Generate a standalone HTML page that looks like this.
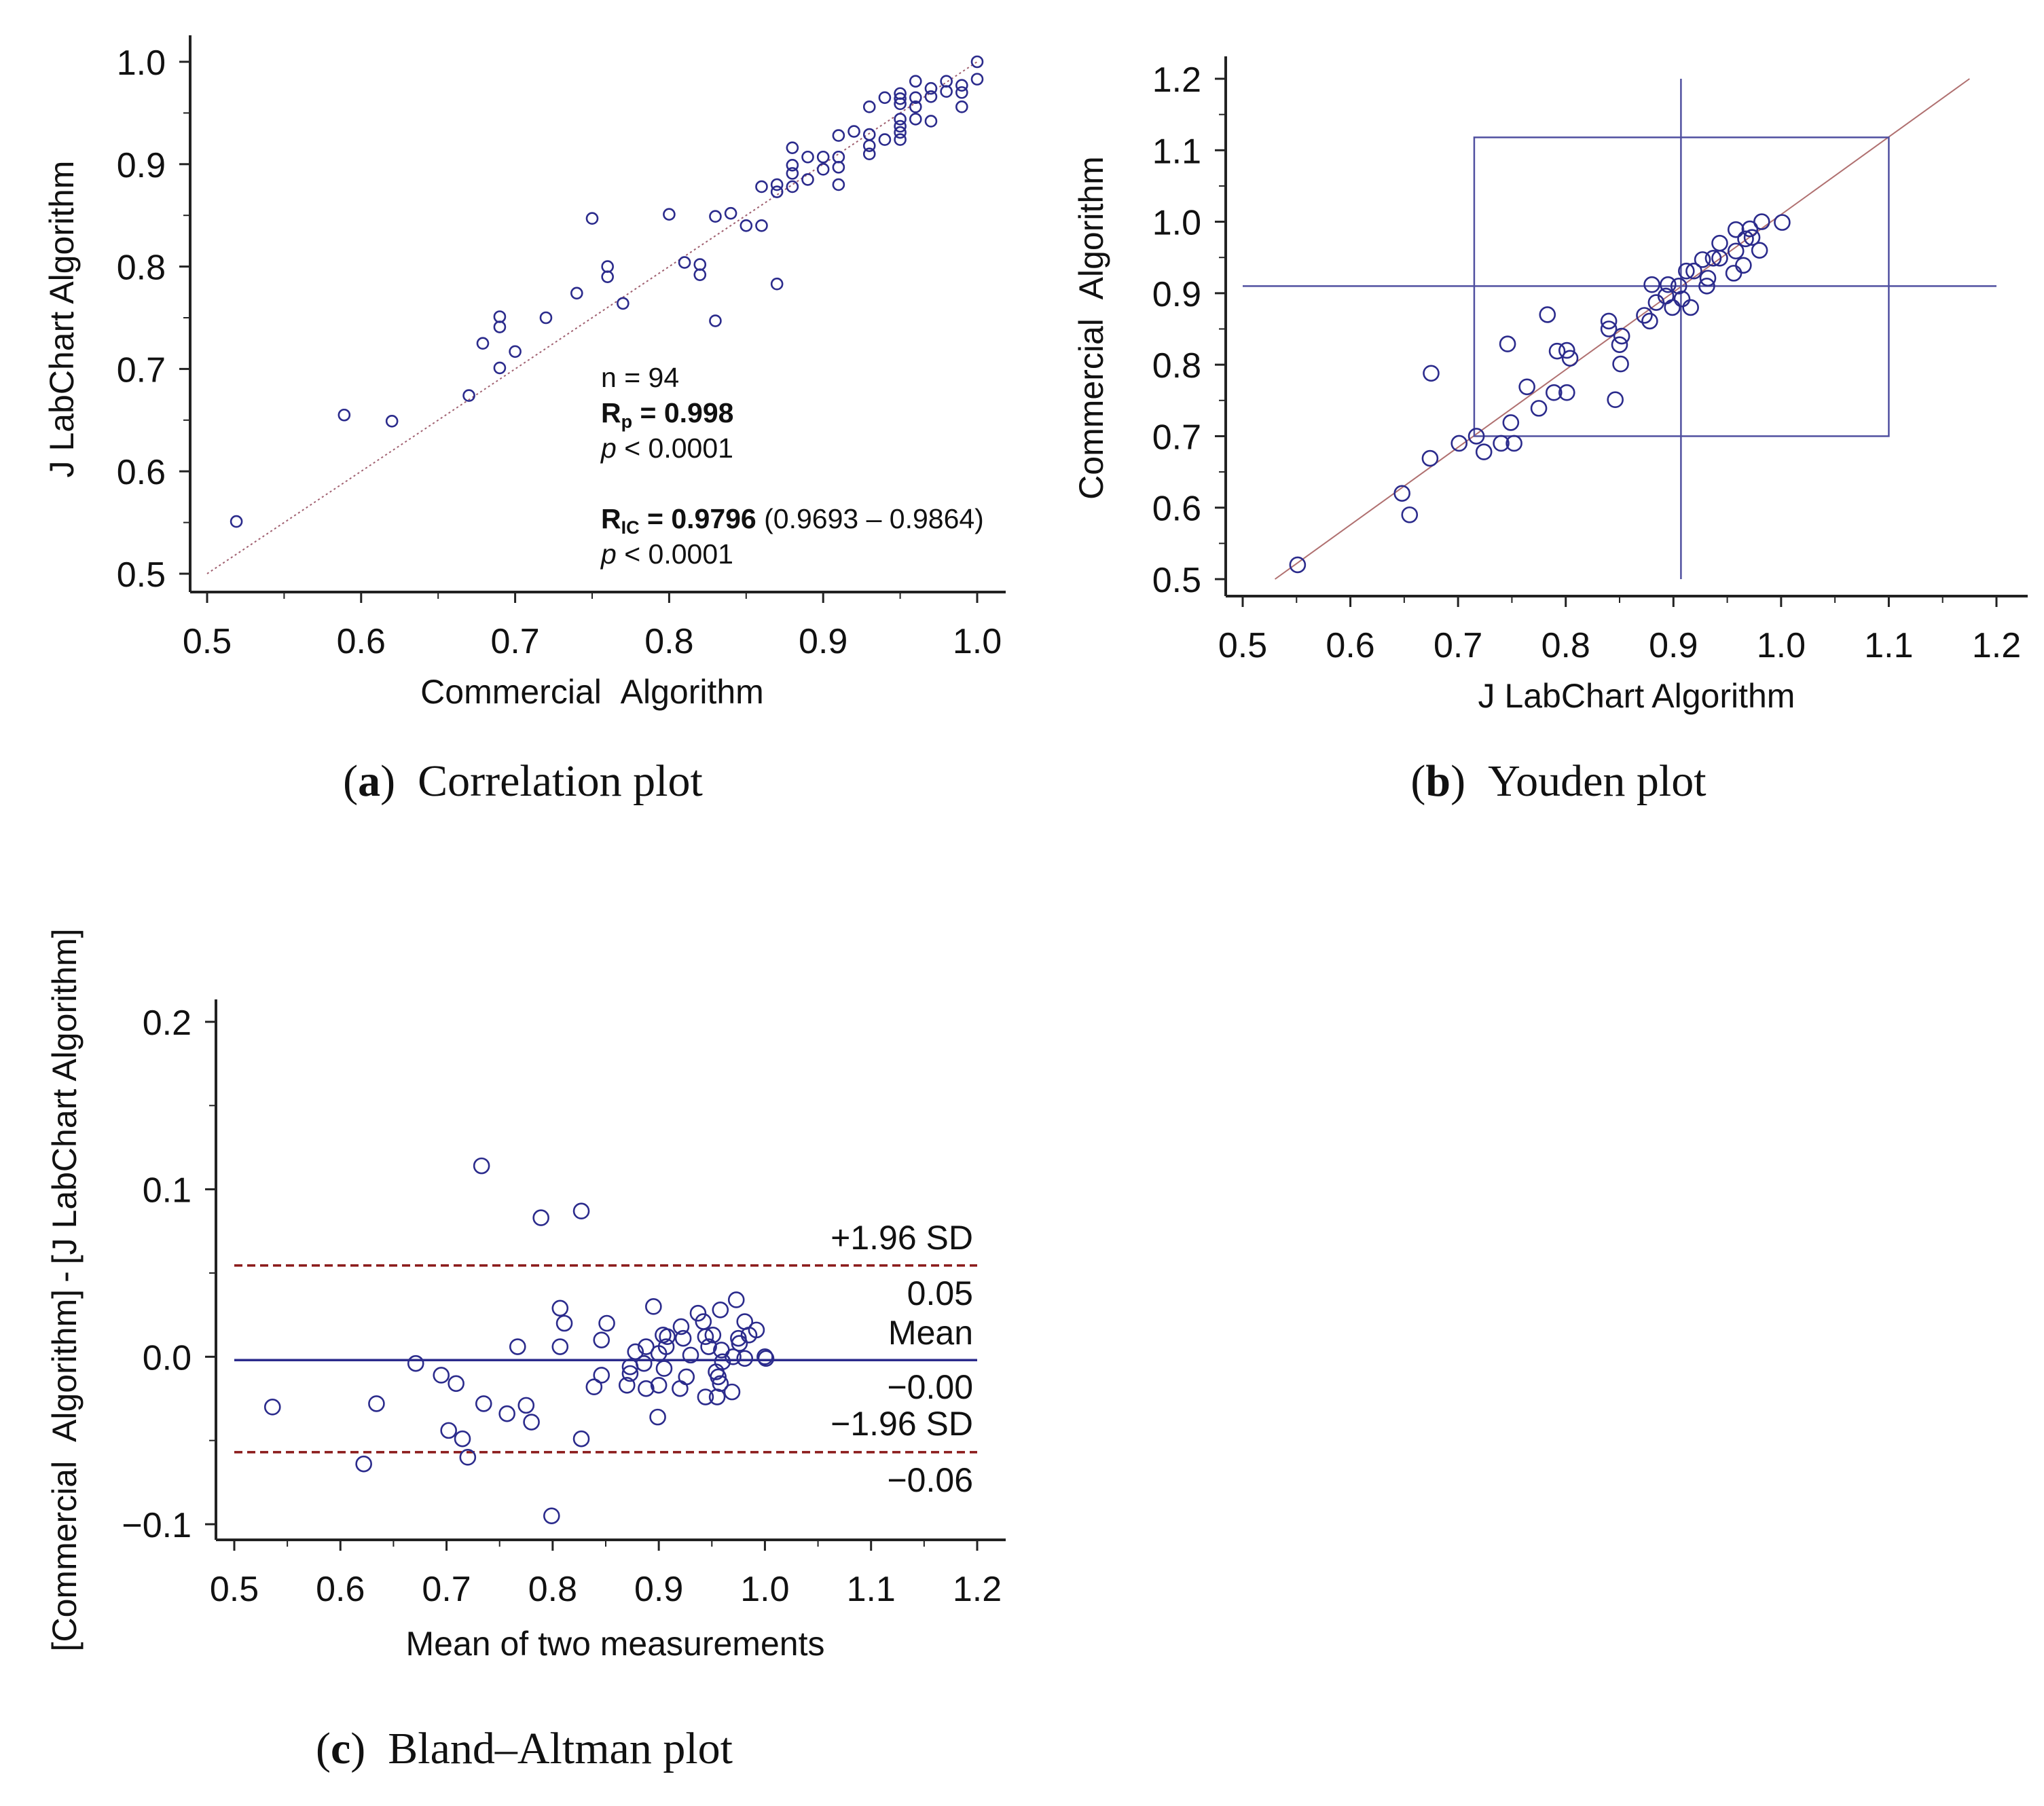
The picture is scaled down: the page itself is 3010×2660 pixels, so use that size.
<!DOCTYPE html>
<html><head><meta charset="utf-8">
<style>
html,body{margin:0;padding:0;background:#fff;}
svg{display:block;font-family:"Liberation Sans",sans-serif;}
.cap{font-family:"Liberation Serif",serif;}
</style></head>
<body>
<svg id="fig" width="3010" height="2660" viewBox="0 0 3010 2660" xmlns="http://www.w3.org/2000/svg">
<rect width="3010" height="2660" fill="#fff"/>
</svg>
<script>
// ---- Panel A data (Commercial x, J LabChart y) ----
const corrX=[0.519,0.589,0.620,0.670,0.679,0.69,0.69,0.69,0.70,0.72,0.74,0.75,0.76,0.76,0.77,0.80,0.81,0.82,0.82,0.83,0.83,0.84,0.85,0.86,0.86,0.87,0.87,0.87,0.88,0.88,0.88,0.88,0.89,0.89,0.90,0.90,0.91,0.91,0.91,0.91,0.92,0.93,0.93,0.93,0.93,0.94,0.94,0.95,0.95,0.95,0.95,0.95,0.95,0.95,0.96,0.96,0.96,0.96,0.97,0.97,0.97,0.98,0.98,0.99,0.99,0.99,1.0,1.0];
const corrY=[0.551,0.655,0.649,0.674,0.725,0.751,0.741,0.701,0.717,0.75,0.774,0.847,0.80,0.79,0.764,0.851,0.804,0.802,0.792,0.849,0.747,0.852,0.84,0.84,0.878,0.88,0.873,0.783,0.916,0.899,0.891,0.878,0.907,0.885,0.907,0.895,0.928,0.907,0.897,0.88,0.932,0.956,0.929,0.918,0.91,0.965,0.924,0.969,0.964,0.959,0.944,0.937,0.931,0.924,0.981,0.965,0.956,0.944,0.974,0.966,0.942,0.981,0.971,0.977,0.970,0.956,1.0,0.983];
const corrTicks=[0.5,0.6,0.7,0.8,0.9,1.0];
// ---- Panel B data (J LabChart x, Commercial y) ----
const youX=[0.551,0.648,0.655,0.675,0.674,0.701,0.717,0.724,0.740,0.752,0.749,0.746,0.764,0.775,0.783,0.789,0.801,0.792,0.801,0.804,0.840,0.840,0.852,0.850,0.851,0.846,0.873,0.878,0.880,0.884,0.893,0.895,0.899,0.905,0.908,0.912,0.916,0.919,0.927,0.931,0.932,0.937,0.943,0.943,0.956,0.958,0.958,0.965,0.967,0.971,0.973,0.980,0.982,1.001];
const youY=[0.520,0.620,0.590,0.788,0.669,0.690,0.700,0.678,0.690,0.690,0.719,0.829,0.769,0.739,0.870,0.761,0.761,0.819,0.820,0.809,0.861,0.850,0.840,0.828,0.801,0.751,0.869,0.861,0.912,0.887,0.896,0.912,0.880,0.910,0.892,0.931,0.880,0.931,0.947,0.910,0.921,0.949,0.949,0.970,0.928,0.989,0.959,0.939,0.976,0.990,0.978,0.960,1.0,0.999];
const youXTicks=[0.5,0.6,0.7,0.8,0.9,1.0,1.1,1.2];
const youYTicks=[0.5,0.6,0.7,0.8,0.9,1.0,1.1,1.2];
const youRefX=0.907, youRefY=0.91, youBox=[0.715,1.1,0.70,1.118];
// ---- Panel C data ----
const baMean=[0.536,0.622,0.634,0.671,0.695,0.709,0.702,0.715,0.720,0.733,0.735,0.757,0.767,0.775,0.780,0.789,0.799,0.807,0.811,0.807,0.827,0.827,0.839,0.846,0.846,0.851,0.870,0.873,0.873,0.878,0.886,0.888,0.888,0.895,0.900,0.900,0.899,0.904,0.905,0.907,0.908,0.921,0.923,0.926,0.920,0.930,0.937,0.942,0.944,0.944,0.947,0.951,0.954,0.955,0.956,0.958,0.958,0.959,0.960,0.970,0.973,0.975,0.976,0.981,0.981,0.985,0.992,1.000,1.001,0.969];
const baDiff=[-0.030,-0.064,-0.028,-0.004,-0.011,-0.016,-0.044,-0.049,-0.060,0.114,-0.028,-0.034,0.006,-0.029,-0.039,0.083,-0.095,0.029,0.020,0.006,0.087,-0.049,-0.018,-0.011,0.010,0.020,-0.017,-0.006,-0.010,0.003,-0.004,-0.019,0.006,0.030,0.002,-0.017,-0.036,0.013,-0.007,0.006,0.012,0.018,0.011,-0.012,-0.019,0.001,0.026,0.021,0.012,-0.024,0.006,0.013,-0.009,-0.024,-0.012,-0.016,0.028,0.004,-0.003,0.000,0.034,0.011,0.008,0.021,-0.001,0.013,0.016,0.000,-0.001,-0.021];
const baXTicks=[0.5,0.6,0.7,0.8,0.9,1.0,1.1,1.2];
const baYTicks=[-0.1,0.0,0.1,0.2];
const baUpper=0.0545, baMeanLine=-0.002, baLower=-0.057;

const NS="http://www.w3.org/2000/svg";
const svg=document.getElementById('fig');
function el(tag,attrs,parent,text){const e=document.createElementNS(NS,tag);for(const k in attrs)e.setAttribute(k,attrs[k]);if(text!==undefined)e.textContent=text;(parent||svg).appendChild(e);return e;}
const NAVY="#2b2b8c";
const TICKFS=52, TITLEFS=50, CAPFS=66;

function axes(g,P,xTicks,yTicks,xfmt,yfmt){
  const ax=el('line',{x1:P.x0,y1:P.top,x2:P.x0,y2:P.y0,stroke:'#222','stroke-width':4},g);
  
  const bx=el('line',{x1:P.x0,y1:P.y0,x2:P.right,y2:P.y0,stroke:'#222','stroke-width':4},g);
  
  xTicks.forEach((v,i)=>{const x=P.sx(v);
    el('line',{x1:x,y1:P.y0,x2:x,y2:P.y0+16,stroke:'#222','stroke-width':3},g);
    if(i<xTicks.length-1){const xm=P.sx(v+(xTicks[1]-xTicks[0])/2);el('line',{x1:xm,y1:P.y0,x2:xm,y2:P.y0+10,stroke:'#222','stroke-width':2},g);}
    const t=el('text',{x:x,y:P.y0+90,'font-size':TICKFS,'text-anchor':'middle',fill:'#111'},g,xfmt(v));
    });
  yTicks.forEach((v,i)=>{const y=P.sy(v);
    el('line',{x1:P.x0-16,y1:y,x2:P.x0,y2:y,stroke:'#222','stroke-width':3},g);
    if(i<yTicks.length-1){const ym=P.sy(v+(yTicks[1]-yTicks[0])/2);el('line',{x1:P.x0-10,y1:ym,x2:P.x0,y2:ym,stroke:'#222','stroke-width':2},g);}
    const t=el('text',{x:P.x0-36,y:y+19,'font-size':TICKFS,'text-anchor':'end',fill:'#111'},g,yfmt(v));
    });
}
function pts(g,P,xs,ys,r){xs.forEach((x,i)=>{const c=el('circle',{cx:P.sx(x),cy:P.sy(ys[i]),r:r,fill:'none',stroke:NAVY,'stroke-width':2.6},g);
  });}
function lin(a0,a1,p0,p1){return v=>p0+(v-a0)/(a1-a0)*(p1-p0);}
const f1=v=>v.toFixed(1);
const SP='\u00a0\u00a0';
const GAP='\u00a0\u00a0';

// Panel A
const gA=el('g',{});
const PA={x0:280,y0:872,top:52,right:1481,sx:lin(0.5,1.0,305,1439),sy:lin(0.5,1.0,845,91)};
el('line',{x1:PA.sx(0.5),y1:PA.sy(0.5),x2:PA.sx(1.0),y2:PA.sy(1.0),stroke:'#a06070','stroke-width':2,'stroke-dasharray':'3,4'},gA);
axes(gA,PA,corrTicks,corrTicks,f1,f1);
pts(gA,PA,corrX,corrY,8);
el('text',{x:872,y:1036,'font-size':TITLEFS,'text-anchor':'middle',fill:'#111'},gA,'Commercial'+GAP+'Algorithm');
el('text',{x:0,y:0,'font-size':TITLEFS,'text-anchor':'middle',fill:'#111',transform:'translate(108,470) rotate(-90)'},gA,'J LabChart Algorithm');
const ann=el('g',{'font-size':41,fill:'#111'},gA);
el('text',{x:885,y:570},ann,'n = 94');
const rp=el('text',{x:885,y:622,'font-weight':'bold'},ann);el('tspan',{},rp,'R');el('tspan',{'font-size':27,dy:8},rp,'p');el('tspan',{dy:-8},rp,' = 0.998');
const p1=el('text',{x:885,y:674},ann);el('tspan',{'font-style':'italic'},p1,'p');el('tspan',{},p1,' < 0.0001');
const ric=el('text',{x:885,y:778},ann);el('tspan',{'font-weight':'bold'},ric,'R');el('tspan',{'font-size':27,dy:8,'font-weight':'bold'},ric,'IC');el('tspan',{dy:-8,'font-weight':'bold'},ric,' = 0.9796');el('tspan',{},ric,' (0.9693 – 0.9864)');
const p2=el('text',{x:885,y:830},ann);el('tspan',{'font-style':'italic'},p2,'p');el('tspan',{},p2,' < 0.0001');
const ca=el('text',{x:770,y:1172,'font-size':CAPFS,'text-anchor':'middle',fill:'#111',class:'cap'},gA);
el('tspan',{},ca,'(');el('tspan',{'font-weight':'bold'},ca,'a');el('tspan',{},ca,')'+SP+'Correlation plot');

// Panel B
const gB=el('g',{});
const PB={x0:1805,y0:878,top:83,right:2986,sx:lin(0.5,1.2,1830,2940),sy:lin(0.5,1.2,853,116)};
el('line',{x1:PB.sx(0.53),y1:PB.sy(0.5),x2:PB.sx(1.175),y2:PB.sy(1.2),stroke:'#b07070','stroke-width':2},gB);
el('line',{x1:PB.sx(youRefX),y1:PB.sy(1.2),x2:PB.sx(youRefX),y2:PB.sy(0.5),stroke:'#5050a0','stroke-width':2.5},gB);
el('line',{x1:PB.sx(0.5),y1:PB.sy(youRefY),x2:PB.sx(1.2),y2:PB.sy(youRefY),stroke:'#5050a0','stroke-width':2.5},gB);
el('rect',{x:PB.sx(youBox[0]),y:PB.sy(youBox[3]),width:PB.sx(youBox[1])-PB.sx(youBox[0]),height:PB.sy(youBox[2])-PB.sy(youBox[3]),fill:'none',stroke:'#5050a0','stroke-width':2.5},gB);
axes(gB,PB,youXTicks,youYTicks,f1,f1);
pts(gB,PB,youX,youY,11);
el('text',{x:2410,y:1042,'font-size':TITLEFS,'text-anchor':'middle',fill:'#111'},gB,'J LabChart Algorithm');
el('text',{x:0,y:0,'font-size':TITLEFS,'text-anchor':'middle',fill:'#111',transform:'translate(1624,483) rotate(-90)'},gB,'Commercial'+GAP+'Algorithm');
const cb=el('text',{x:2295,y:1172,'font-size':CAPFS,'text-anchor':'middle',fill:'#111',class:'cap'},gB);
el('tspan',{},cb,'(');el('tspan',{'font-weight':'bold'},cb,'b');el('tspan',{},cb,')'+SP+'Youden plot');

// Panel C
const gC=el('g',{});
const PC={x0:318,y0:2268,top:1472,right:1481,sx:lin(0.5,1.2,345,1439),sy:lin(-0.1,0.2,2245,1505)};
axes(gC,PC,baXTicks,baYTicks,f1,v=>(v<0?'\u2212':'')+Math.abs(v).toFixed(1));
el('line',{x1:PC.sx(0.5),y1:PC.sy(baUpper),x2:1439,y2:PC.sy(baUpper),stroke:'#8b1a1a','stroke-width':3.5,'stroke-dasharray':'12,7'},gC);
el('line',{x1:PC.sx(0.5),y1:PC.sy(baLower),x2:1439,y2:PC.sy(baLower),stroke:'#8b1a1a','stroke-width':3.5,'stroke-dasharray':'12,7'},gC);
el('line',{x1:PC.sx(0.5),y1:PC.sy(baMeanLine),x2:1439,y2:PC.sy(baMeanLine),stroke:'#2b2b8c','stroke-width':3.5},gC);
pts(gC,PC,baMean,baDiff,11);
const lbl=[['+1.96 SD',1840],['0.05',1922],['Mean',1980],['\u22120.00',2060],['\u22121.96 SD',2114],['\u22120.06',2197]];
lbl.forEach(l=>{const t=el('text',{x:1433,y:l[1],'font-size':50,'text-anchor':'end',fill:'#111'},gC,l[0]);
  });
el('text',{x:906,y:2438,'font-size':TITLEFS,'text-anchor':'middle',fill:'#111'},gC,'Mean of two measurements');
el('text',{x:0,y:0,'font-size':TITLEFS,'text-anchor':'middle',fill:'#111',transform:'translate(112,1900) rotate(-90)'},gC,'[Commercial'+GAP+'Algorithm]\u2009-\u2009[J LabChart Algorithm]');
const cc=el('text',{x:772,y:2597,'font-size':CAPFS,'text-anchor':'middle',fill:'#111',class:'cap'},gC);
el('tspan',{},cc,'(');el('tspan',{'font-weight':'bold'},cc,'c');el('tspan',{},cc,')'+SP+'Bland\u2013Altman plot');
</script>
</body></html>
